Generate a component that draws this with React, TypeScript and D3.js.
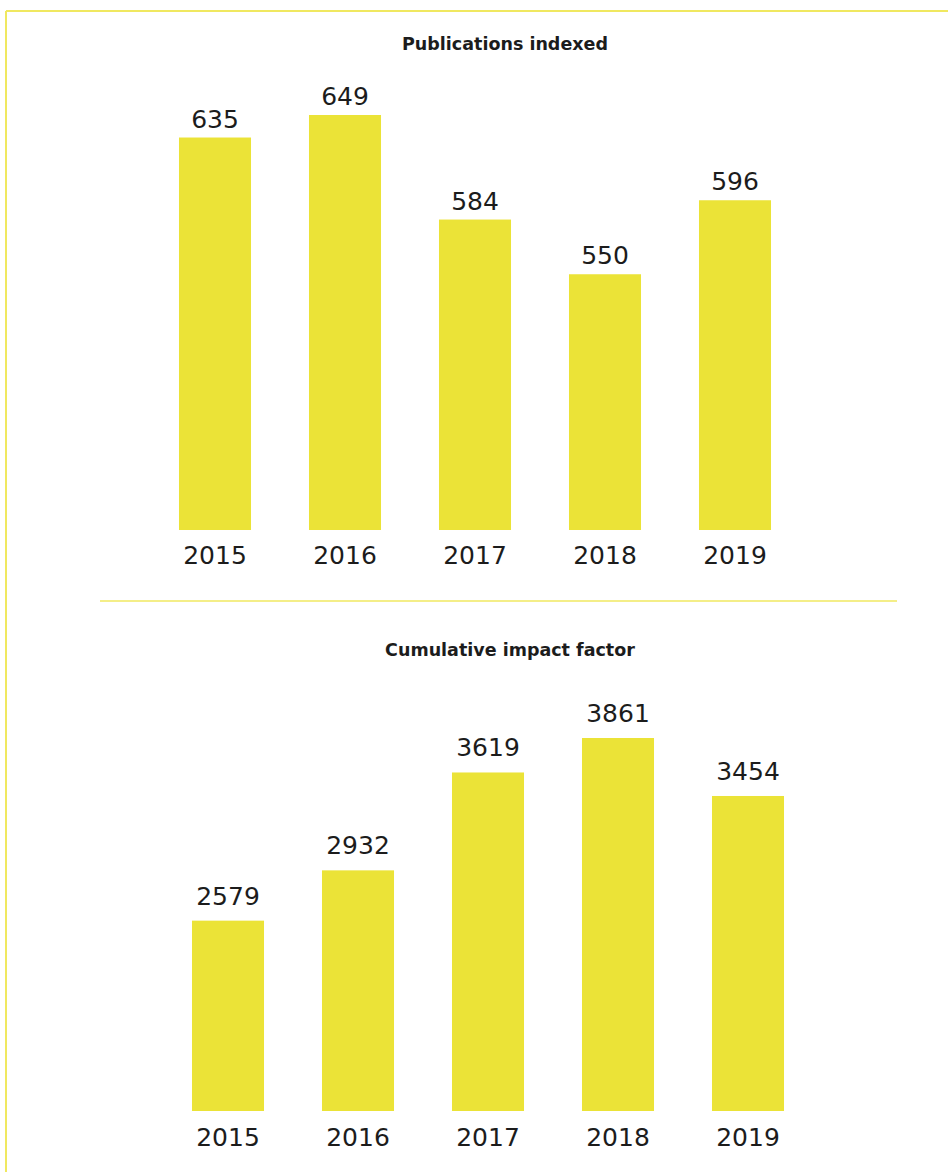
import React from "react";
import * as d3 from "d3";

const years = ["2015", "2016", "2017", "2018", "2019"];
const publications = [635, 649, 584, 550, 596];
const impactFactor = [2579, 2932, 3619, 3861, 3454];

const BAR = "#ebe337";
const LINE = "#f0e860";
const INK = "#1c1c1c";
const FONT = "'DejaVu Sans', sans-serif";

type PanelProps = {
  title: string;
  titleX: number;
  titleY: number;
  values: number[];
  domain: [number, number];
  yRange: [number, number];
  xRange: [number, number];
  labelGap: number;
  yearY: number;
};

const Panel = ({ title, titleX, titleY, values, domain, yRange, xRange, labelGap, yearY }: PanelProps) => {
  const x = d3.scaleBand<string>().domain(years).range(xRange).paddingInner(0.446).paddingOuter(0.223);
  const y = d3.scaleLinear().domain(domain).range(yRange);
  const base = yRange[0];
  return (
    <g>
      <text x={titleX} y={titleY} textAnchor="middle" fontFamily={FONT} fontWeight="bold" fontSize={17.5} fill={INK}>
        {title}
      </text>
      {values.map((v, i) => {
        const bx = x(years[i]) as number;
        return (
          <g key={years[i]}>
            <rect x={bx} y={y(v)} width={x.bandwidth()} height={base - y(v)} fill={BAR} />
            <text x={bx + x.bandwidth() / 2} y={y(v) - labelGap} textAnchor="middle" fontFamily={FONT} fontSize={25} fill={INK}>
              {v}
            </text>
            <text x={bx + x.bandwidth() / 2} y={yearY} textAnchor="middle" fontFamily={FONT} fontSize={25} fill={INK}>
              {years[i]}
            </text>
          </g>
        );
      })}
    </g>
  );
};

export default function App() {
  return (
    <svg width={948} height={1172} style={{ position: "absolute", left: 0, top: 0, background: "#fff" }}>
      <line x1={6} y1={11} x2={948} y2={11} stroke={LINE} strokeWidth={2} />
      <line x1={6} y1={11} x2={6} y2={1172} stroke={LINE} strokeWidth={2} />
      <line x1={100} y1={601} x2={897} y2={601} stroke={LINE} strokeWidth={1.5} />
      <Panel
        title="Publications indexed"
        titleX={505}
        titleY={50}
        values={publications}
        domain={[391, 649]}
        yRange={[530, 115]}
        xRange={[150, 800]}
        labelGap={10}
        yearY={564}
      />
      <Panel
        title="Cumulative impact factor"
        titleX={510}
        titleY={656}
        values={impactFactor}
        domain={[1243, 3861]}
        yRange={[1111, 738]}
        xRange={[163, 813]}
        labelGap={16}
        yearY={1146}
      />
    </svg>
  );
}
